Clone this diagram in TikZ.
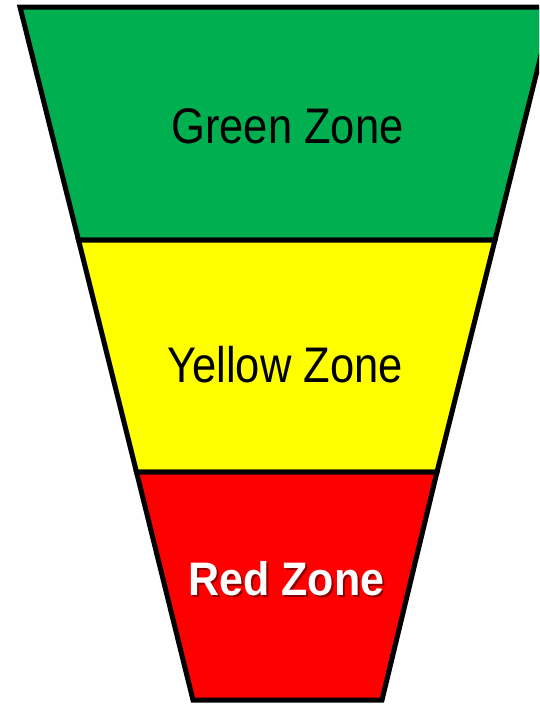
\documentclass[tikz,border=0pt]{standalone}
\usepackage{fontspec}
\setmainfont{Liberation Sans}
\definecolor{zgreen}{HTML}{00B050}
\definecolor{zyellow}{HTML}{FFFF00}
\definecolor{zred}{HTML}{FF0000}
\begin{document}
\begin{tikzpicture}[x=1pt,y=-1pt,
  zone/.style={draw=black,line width=5pt,line join=miter},
  lbl/.style={font=\fontsize{50}{56}\selectfont,xscale=0.87,inner sep=0pt,anchor=base},
  redlbl/.style={font=\fontsize{47}{52}\selectfont\bfseries,xscale=0.915,inner sep=0pt,anchor=base}]
\useasboundingbox (0,0) rectangle (539,704);
\clip (0,0) rectangle (539,704);
\coordinate (tl) at (20,7);
\coordinate (tr) at (553,7);
\coordinate (ml1) at (78.5,240);
\coordinate (mr1) at (495,240);
\coordinate (ml2) at (136.5,472);
\coordinate (mr2) at (437,472);
\coordinate (bl) at (193,700);
\coordinate (br) at (382,700);
\draw[zone,fill=zgreen] (tl) -- (tr) -- (mr1) -- (ml1) -- cycle;
\draw[zone,fill=zyellow] (ml1) -- (mr1) -- (mr2) -- (ml2) -- cycle;
\draw[zone,fill=zred] (ml2) -- (mr2) -- (br) -- (bl) -- cycle;
\node[lbl] (green) at (287.5,143) {Green Zone};
\node[lbl] (yellow) at (285,382) {Yellow Zone};
\node[redlbl,text=black!45!zred] (redshadow) at (288.5,597) {Red Zone};
\node[redlbl,text=white] (red) at (286.5,595) {Red Zone};
\end{tikzpicture}
\end{document}
